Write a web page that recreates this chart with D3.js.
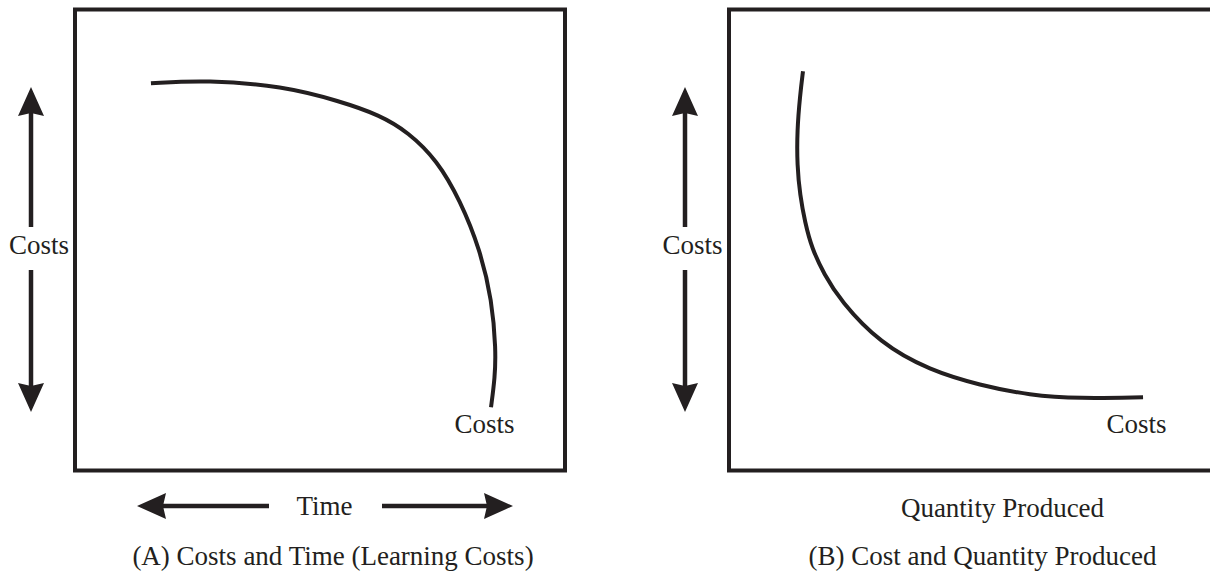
<!DOCTYPE html>
<html>
  <head>
    <meta charset="utf-8">
    <script src="https://d3js.org/d3.v7.min.js"></script>
    <style>
      body { margin: 0; background: #ffffff; }
      text { font-family: "Liberation Serif", "Times New Roman", serif; fill: #231f20; }
    </style>
  </head>
  <body>
    <div id="chartcontainer"></div>
    <script type="text/javascript">

      // panel A: costs over time (learning costs), 0..10 units on both axes
      var timeA  = [1.55, 2.69, 4.24, 5.41, 6.22, 6.80, 7.39, 7.86, 8.27, 8.51, 8.59, 8.57, 8.49];
      var costsA = [8.40, 8.47, 8.34, 8.01, 7.71, 7.34, 6.73, 5.86, 4.78, 3.69, 2.61, 2.02, 1.37];

      // panel B: costs against quantity produced
      var qtyB   = [1.51, 1.45, 1.39, 1.39, 1.45, 1.55, 1.69, 1.94, 2.27, 3.08, 4.10, 5.12, 6.14, 7.16, 8.45];
      var costsB = [8.66, 8.14, 7.38, 6.62, 5.97, 5.39, 4.82, 4.26, 3.69, 2.76, 2.17, 1.85, 1.63, 1.56, 1.59];

      var panels = [
        { left: 75,  xs: timeA, ys: costsA, yLabelX: 39,  endX: 484.5,
          caption: "(A) Costs and Time (Learning Costs)", capX: 333 },
        { left: 729, xs: qtyB,  ys: costsB, yLabelX: 692.5, endX: 1136.5,
          caption: "(B) Cost and Quantity Produced", capX: 982.5 }
      ];

      var ink = "#231f20";
      var boxW = 490, boxTop = 9.5, boxBottom = 470.5;
      var fs = "27px";

      var svg = d3.select("#chartcontainer").append("svg")
          .attr("width", 1210)
          .attr("height", 573);

      // little notched arrow head pointing along (dx,dy) with tip at (x,y)
      function head(x, y, dx, dy) {
        var len = 29, half = 13, notch = 3;
        var px = -dy, py = dx;
        var bx = x - dx * len, by = y - dy * len;
        var nx = x - dx * (len - notch), ny = y - dy * (len - notch);
        return "M" + x + "," + y +
               "L" + (bx + px * half) + "," + (by + py * half) +
               "L" + nx + "," + ny +
               "L" + (bx - px * half) + "," + (by - py * half) + "Z";
      }

      function arrow(g, x1, y1, x2, y2) {
        var d = Math.hypot(x2 - x1, y2 - y1);
        var dx = (x2 - x1) / d, dy = (y2 - y1) / d;
        g.append("line")
            .attr("x1", x1).attr("y1", y1)
            .attr("x2", x2 - dx * 26).attr("y2", y2 - dy * 26)
            .attr("stroke", ink).attr("stroke-width", 4.5);
        g.append("path").attr("d", head(x2, y2, dx, dy)).attr("fill", ink);
      }

      panels.forEach(function(p) {
        var x = d3.scaleLinear().domain([0, 10]).range([p.left, p.left + boxW]);
        var y = d3.scaleLinear().domain([0, 10]).range([boxBottom, boxTop]);
        var g = svg.append("g");

        // frame
        g.append("rect")
            .attr("x", x(0)).attr("y", y(10))
            .attr("width", x(10) - x(0)).attr("height", y(0) - y(10))
            .attr("fill", "none").attr("stroke", ink).attr("stroke-width", 4);

        // cost curve
        var pts = p.xs.map(function(v, i) { return [v, p.ys[i]]; });
        var line = d3.line()
            .x(function(d) { return x(d[0]); })
            .y(function(d) { return y(d[1]); })
            .curve(d3.curveBasis);
        g.append("path").datum(pts)
            .attr("d", line)
            .attr("fill", "none").attr("stroke", ink)
            .attr("stroke-width", 4).attr("stroke-linecap", "butt");

        // vertical costs arrows and label
        var ax = p.left - 44;
        arrow(g, ax, 227, ax, 87);
        arrow(g, ax, 270, ax, 412);
        g.append("text").attr("x", p.yLabelX).attr("y", 254)
            .attr("text-anchor", "middle").style("font-size", fs).text("Costs");

        // curve end label
        g.append("text").attr("x", p.endX).attr("y", 433)
            .attr("text-anchor", "middle").style("font-size", fs).text("Costs");

        // caption
        g.append("text").attr("x", p.capX).attr("y", 565)
            .attr("text-anchor", "middle").style("font-size", fs).text(p.caption);
      });

      // x axis labels
      var ga = svg.append("g");
      arrow(ga, 269, 506, 137, 506);
      arrow(ga, 382, 506, 513, 506);
      ga.append("text").attr("x", 324.5).attr("y", 515)
          .attr("text-anchor", "middle").style("font-size", fs).text("Time");

      svg.append("text").attr("x", 1002.5).attr("y", 517)
          .attr("text-anchor", "middle").style("font-size", fs).text("Quantity Produced");

    </script>
  </body>
</html>
